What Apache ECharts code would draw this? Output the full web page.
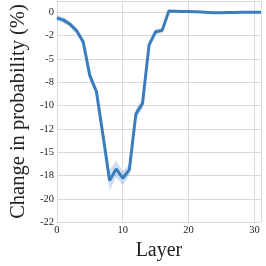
<!DOCTYPE html>
<html>
<head>
<meta charset="utf-8">
<script src="https://cdn.jsdelivr.net/npm/echarts@6/dist/echarts.min.js"></script>
<style>html,body{margin:0;padding:0;background:#fff;}#c{width:266px;height:266px;}</style>
</head>
<body>
<div id="c"></div>
<script>
const layers = [0,1,2,3,4,5,6,7,8,9,10,11,12,13,14,15,16,17,18,19,20,21,22,23,24,25,26,27,28,29,30,31];
const meanChange = [-0.6,-0.85,-1.3,-2.0,-3.2,-6.8,-8.5,-13.2,-18.05,-16.8,-17.8,-16.9,-10.9,-9.8,-3.5,-2.1,-1.95,0.12,0.1,0.08,0.08,0.05,0.02,-0.02,-0.06,-0.06,-0.04,-0.02,0.0,0.0,0.0,0.0];
const ciHalfWidth = [0.3,0.3,0.3,0.3,0.35,0.45,0.45,0.6,1.1,0.9,0.75,0.6,0.6,0.5,0.35,0.3,0.3,0.12,0.1,0.08,0.08,0.08,0.08,0.08,0.1,0.1,0.08,0.08,0.06,0.06,0.06,0.06];
const yTickLabelValues = [0,-2.5,-5,-7.5,-10,-12.5,-15,-17.5,-20,-22.5];
const xTickValues = [0,10,20,30];

function bankersRound(v){
  const f = Math.floor(v), d = v - f;
  if (Math.abs(d-0.5) < 1e-9) return (f % 2 === 0) ? f : f+1;
  return Math.round(v);
}

const mean = layers.map((l,i)=>[l, meanChange[i]]);

const font = 'Liberation Serif';
const gridColor = '#dadada';
const lineColor = '#3a7dbd';

const chart = echarts.init(document.getElementById('c'), null, {renderer:'canvas'});
chart.setOption({
  animation:false,
  backgroundColor:'#fff',
  grid:{left:42, right:5, top:1, bottom:36},
  xAxis:{
    type:'value', min:0, max:31, interval:10,
    name:'Layer', nameLocation:'middle', nameGap:12,
    nameTextStyle:{fontFamily:font, fontSize:20, color:'#222'},
    axisLine:{show:true, lineStyle:{color:gridColor, width:1}},
    axisTick:{show:false},
    axisLabel:{fontFamily:font, fontSize:10.5, color:'#222', margin:3, showMaxLabel:false},
    splitLine:{show:true, lineStyle:{color:gridColor, width:1}}
  },
  yAxis:{
    type:'value', min:-22.5, max:1.2, interval:2.5,
    name:'Change in probability (%)', nameLocation:'middle', nameGap:19,
    nameTextStyle:{fontFamily:font, fontSize:20.5, color:'#222'},
    axisLine:{show:true, lineStyle:{color:gridColor, width:1}},
    axisTick:{show:false},
    axisLabel:{fontFamily:font, fontSize:10.5, color:'#222', margin:3, showMaxLabel:false,
      formatter:function(v){
        for (const t of yTickLabelValues){ if (Math.abs(v-t)<1e-6) return String(bankersRound(t)); }
        return '';
      }},
    splitLine:{show:true, lineStyle:{color:gridColor, width:1}}
  },
  series:[
    {type:'custom', data:mean, encode:{x:0,y:1}, silent:true, z:3,
      renderItem:function(params, api){
        if (params.dataIndex !== 0) return null;
        const pts = [];
        for (let i=0;i<layers.length;i++) pts.push(api.coord([layers[i], meanChange[i]+ciHalfWidth[i]]));
        for (let i=layers.length-1;i>=0;i--) pts.push(api.coord([layers[i], meanChange[i]-ciHalfWidth[i]]));
        return {type:'polygon', shape:{points:pts}, style:{fill:'rgba(58,125,189,0.25)'}};
      }},
    {type:'line', data:mean, symbol:'none', lineStyle:{color:lineColor, width:3}, z:5}
  ]
});
</script>
</body>
</html>
